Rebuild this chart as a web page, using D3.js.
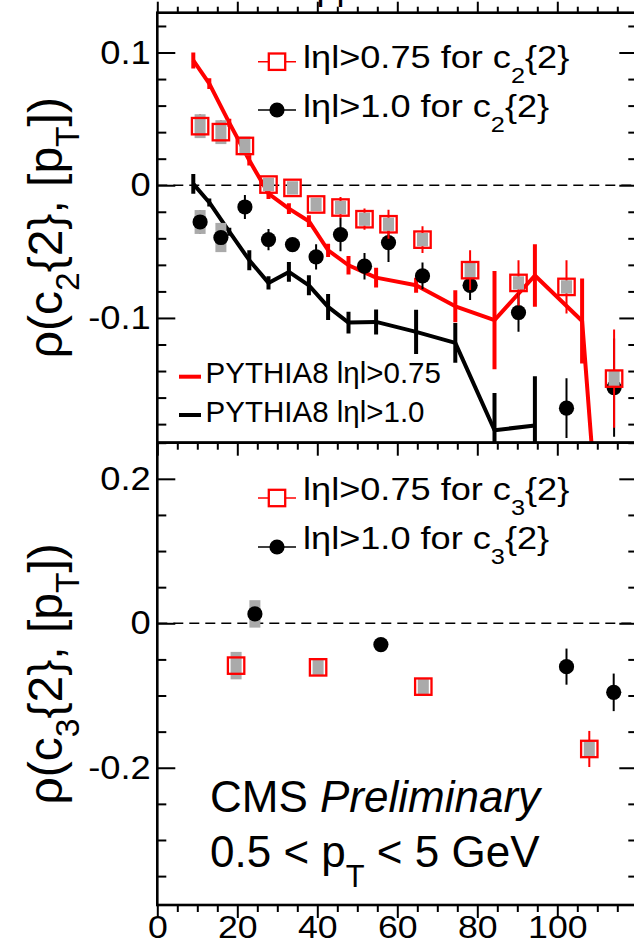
<!DOCTYPE html>
<html>
<head>
<meta charset="utf-8">
<script src="https://cdn.jsdelivr.net/npm/d3@7"></script>
<style>
  body { margin: 0; background: #fff; }
  svg { display: block; }
  text { font-family: "Liberation Sans", Arial, Helvetica, sans-serif; fill: #000; }
</style>
</head>
<body>
<div id="chart"></div>
<script>
// ---- data ----
// top panel: rho(c2{2},[pT]) vs multiplicity
const c2X = [10.7, 15.9, 21.9, 27.8, 33.8, 39.7, 45.8, 51.8, 57.8, 66.3, 78.2, 90.3, 102.3, 114.2];
const c2Red = [0.0445, 0.040, 0.0296, 0.0005, -0.002, -0.0145, -0.0168, -0.0256, -0.0294, -0.041, -0.064, -0.0736, -0.0766, -0.1457];
const c2RedStat = [0.009, 0.009, 0.004, 0.004, 0.004, 0.004, 0.008, 0.008, 0.011, 0.010, 0.015, 0.017, 0.020, 0.037];
const c2RedSys = [0.009, 0.009, 0.007, 0.005, 0.005, 0.005, 0.005, 0.005, 0.005, 0.005, 0.006, 0.005, 0.005, 0.006];
const c2Black = [-0.0277, -0.0394, -0.0164, -0.0409, -0.0447, -0.054, -0.0372, -0.061, -0.0432, -0.0683, -0.0754, -0.0959, -0.168, -0.1525];
const c2BlackStat = [0.009, 0.009, 0.009, 0.008, 0.005, 0.0095, 0.0125, 0.010, 0.0147, 0.010, 0.011, 0.0145, 0.0225, 0.037];
const c2BlackSys = [0.009, 0.011, 0.004, 0.004, 0.004, 0.004, 0.004, 0.004, 0.004, 0.004, 0.004, 0.004, 0.004, 0.004];

// PYTHIA8 curves
const pyX = [9, 13, 18, 23, 27.8, 32.9, 37.9, 42.7, 47.8, 54.7, 64.7, 74.5, 84.3, 94.4, 106.2, 114.3];
const pyRed = [0.094, 0.0766, 0.047, 0.0188, -0.0063, -0.0176, -0.0271, -0.049, -0.0603, -0.0696, -0.0754, -0.0912, -0.1017, -0.068, -0.1023, -0.42];
const pyRedErr = [0.006, 0.004, 0.003, 0.004, 0.004, 0.004, 0.0044, 0.005, 0.007, 0.0075, 0.0057, 0.012, 0.037, 0.0236, 0.032, 0.03];
const pyBlack = [0.001, -0.013, -0.035, -0.0565, -0.0736, -0.0653, -0.0754, -0.0917, -0.1035, -0.103, -0.1105, -0.1188, -0.1846, -0.181];
const pyBlackErr = [0.0075, 0.003, 0.003, 0.0075, 0.005, 0.0075, 0.0075, 0.0098, 0.0082, 0.0094, 0.0166, 0.015, 0.028, 0.037];

// bottom panel: rho(c3{2},[pT])
const c3RedX = [19.7, 40.2, 66.5, 108];
const c3Red = [-0.0586, -0.061, -0.0877, -0.174];
const c3RedStat = [0.006, 0.005, 0.005, 0.025];
const c3RedSys = [0.019, 0.012, 0.012, 0.012];
const c3BlackX = [24.4, 55.9, 102.3, 114.1];
const c3Black = [0.013, -0.0295, -0.06, -0.0956];
const c3BlackStat = [0.006, 0.005, 0.025, 0.026];
const c3BlackSys = [0.019, 0.005, 0.005, 0.005];

// axis ticks
const xTicks = [0, 20, 40, 60, 80, 100];
const yTopTicks = [-0.1, 0, 0.1];
const yBotTicks = [-0.2, 0, 0.2];

// ---- layout ----
const width = 634, height = 944;
const RED = '#ff0000', GRAY = '#aaaaaa';

const svg = d3.select('#chart').append('svg')
    .attr('width', width)
    .attr('height', height);

const x = d3.scaleLinear().domain([0, 120]).range([157.3, 637.3]);
const yTop = d3.scaleLinear().domain([-0.194, 0.13]).range([442.7, 12.7]);
const yBot = d3.scaleLinear().domain([-0.39, 0.25]).range([905, 442.7]);

const defs = svg.append('defs');
defs.append('clipPath').attr('id', 'clip-top').append('rect')
    .attr('x', x(0)).attr('y', yTop(0.13))
    .attr('width', x(120) - x(0)).attr('height', yTop(-0.194) - yTop(0.13));
defs.append('clipPath').attr('id', 'clip-bot').append('rect')
    .attr('x', x(0)).attr('y', yBot(0.25))
    .attr('width', x(120) - x(0)).attr('height', yBot(-0.39) - yBot(0.25));

// text with sub-scripts: parts = [[text, 'sub'|'it'|undefined], ...]
function richText(g, parts, size, subShift) {
    const t = g.append('text').style('font-size', size + 'px');
    let shift = 0;
    parts.forEach(([s, kind]) => {
        const target = kind === 'sub' ? subShift : 0;
        const ts = t.append('tspan').text(s).attr('dy', target - shift);
        shift = target;
        if (kind === 'sub') ts.style('font-size', (size * 0.7) + 'px');
        if (kind === 'it') ts.style('font-style', 'italic');
    });
    return t;
}

// PYTHIA curve with vertical error bars
function drawCurve(g, y, xs, vals, errs, color) {
    const pts = xs.slice(0, vals.length).map((d, i) => [d, vals[i], errs[i]]);
    g.append('path')
        .datum(pts)
        .attr('fill', 'none')
        .attr('stroke', color)
        .attr('stroke-width', 4)
        .attr('stroke-linejoin', 'round')
        .attr('d', d3.line().x(d => x(d[0])).y(d => y(d[1])));
    g.selectAll(null).data(pts).enter().append('line')
        .attr('x1', d => x(d[0])).attr('x2', d => x(d[0]))
        .attr('y1', d => y(d[1] - d[2])).attr('y2', d => y(d[1] + d[2]))
        .attr('stroke', color)
        .attr('stroke-width', 4);
}

// data points: stat bar, systematic box, marker
function drawPoints(g, y, xs, vals, stat, sys, color, shape) {
    const pts = xs.map((d, i) => ({ x: d, v: vals[i], s: stat[i], b: sys[i] }));
    g.selectAll(null).data(pts).enter().append('line')
        .attr('x1', d => x(d.x)).attr('x2', d => x(d.x))
        .attr('y1', d => y(d.v - d.s)).attr('y2', d => y(d.v + d.s))
        .attr('stroke', color)
        .attr('stroke-width', 2);
    g.selectAll(null).data(pts).enter().append('rect')
        .attr('x', d => x(d.x) - 5.5)
        .attr('width', 11)
        .attr('y', d => y(d.v + d.b))
        .attr('height', d => y(d.v - d.b) - y(d.v + d.b))
        .attr('fill', GRAY);
    if (shape === 'square') {
        g.selectAll(null).data(pts).enter().append('rect')
            .attr('x', d => x(d.x) - 8.2).attr('y', d => y(d.v) - 8.2)
            .attr('width', 16.4).attr('height', 16.4)
            .attr('fill', 'none')
            .attr('stroke', color)
            .attr('stroke-width', 2.3);
    } else {
        g.selectAll(null).data(pts).enter().append('circle')
            .attr('cx', d => x(d.x)).attr('cy', d => y(d.v))
            .attr('r', 7.6)
            .attr('fill', color);
    }
}

function zeroLine(y) {
    svg.append('line')
        .attr('x1', x(0)).attr('x2', x(120))
        .attr('y1', y(0)).attr('y2', y(0))
        .attr('stroke', '#000')
        .attr('stroke-width', 1.5)
        .attr('stroke-dasharray', '10,6');
}

// ---- top panel ----
zeroLine(yTop);
const gTop = svg.append('g').attr('clip-path', 'url(#clip-top)');
drawCurve(gTop, yTop, pyX, pyBlack, pyBlackErr, '#000');
drawCurve(gTop, yTop, pyX, pyRed, pyRedErr, RED);
drawPoints(gTop, yTop, c2X, c2Black, c2BlackStat, c2BlackSys, '#000', 'circle');
drawPoints(gTop, yTop, c2X, c2Red, c2RedStat, c2RedSys, RED, 'square');

// ---- bottom panel ----
zeroLine(yBot);
const gBot = svg.append('g').attr('clip-path', 'url(#clip-bot)');
drawPoints(gBot, yBot, c3RedX, c3Red, c3RedStat, c3RedSys, RED, 'square');
drawPoints(gBot, yBot, c3BlackX, c3Black, c3BlackStat, c3BlackSys, '#000', 'circle');

// ---- axes ----
const fmt = d => (d === 0 ? '0' : String(d));
const minorX = d3.range(0, 121, 5).filter(d => d % 20 !== 0);
const majorX = d3.range(0, 121, 20);

function styleAxis(sel) {
    sel.select('.domain').remove();
    sel.selectAll('line').attr('stroke', '#000').attr('stroke-width', 2);
}

function xAxes(yPos, dir, major, minor) {
    const make = dir === 'top' ? d3.axisTop : d3.axisBottom;
    svg.append('g').attr('transform', `translate(0,${yPos})`)
        .call(make(x).tickValues(majorX).tickSizeInner(-major).tickSizeOuter(0).tickFormat(''))
        .call(styleAxis);
    svg.append('g').attr('transform', `translate(0,${yPos})`)
        .call(make(x).tickValues(minorX).tickSizeInner(-minor).tickSizeOuter(0).tickFormat(''))
        .call(styleAxis);
}

function yAxes(y, majorTicks, minorTicks) {
    const gl = svg.append('g').attr('transform', `translate(${x(0)},0)`)
        .call(d3.axisLeft(y).tickValues(majorTicks).tickSizeInner(-18).tickSizeOuter(0)
            .tickPadding(6).tickFormat(fmt))
        .call(styleAxis);
    gl.selectAll('text')
        .style('font-size', '33px')
        .style('font-family', '"Liberation Sans", Arial, sans-serif')
        .attr('transform', 'scale(1.1,1)');
    svg.append('g').attr('transform', `translate(${x(0)},0)`)
        .call(d3.axisLeft(y).tickValues(minorTicks).tickSizeInner(-9).tickSizeOuter(0).tickFormat(''))
        .call(styleAxis);
    svg.append('g').attr('transform', `translate(${x(120)},0)`)
        .call(d3.axisRight(y).tickValues(majorTicks).tickSizeInner(-18).tickSizeOuter(0).tickFormat(''))
        .call(styleAxis);
    svg.append('g').attr('transform', `translate(${x(120)},0)`)
        .call(d3.axisRight(y).tickValues(minorTicks).tickSizeInner(-9).tickSizeOuter(0).tickFormat(''))
        .call(styleAxis);
}

const minorTop = d3.range(-18, 13, 2).map(d => d / 100).filter(d => Math.abs(d * 10 - Math.round(d * 10)) > 1e-6);
const minorBot = d3.range(-35, 26, 5).map(d => d / 100).filter(d => Math.abs(d * 5 - Math.round(d * 5)) > 1e-6);

xAxes(yTop(0.13), 'bottom', 11, 6);
xAxes(yTop(-0.194), 'top', 13, 7);
xAxes(yBot(-0.39), 'top', 13, 7);
// bottom labels
svg.append('g').attr('transform', `translate(0,${yBot(-0.39)})`)
    .call(d3.axisBottom(x).tickValues(xTicks).tickSize(0).tickPadding(11).tickFormat(fmt))
    .call(g => g.select('.domain').remove())
    .selectAll('text')
    .style('font-size', '31px')
    .style('font-family', '"Liberation Sans", Arial, sans-serif')
    .attr('transform', 'scale(1.15,1)');

yAxes(yTop, yTopTicks, minorTop);
yAxes(yBot, yBotTicks, minorBot);

// frames
[[yTop(0.13), yTop(-0.194)], [yBot(0.25), yBot(-0.39)]].forEach(([t, b]) => {
    svg.append('rect')
        .attr('x', x(0)).attr('y', t)
        .attr('width', x(120) - x(0)).attr('height', b - t)
        .attr('fill', 'none')
        .attr('stroke', '#000')
        .attr('stroke-width', 2.6);
});

// title above the frame, cut off by the page edge as in the original
svg.append('text').attr('x', 316.5).attr('y', -1.5).style('font-size', '36px').text('pp');

// ---- y titles ----
const yTitle = (cy, n) => {
    const g = svg.append('g').attr('transform', `translate(62,${cy}) rotate(-90)`);
    richText(g, [['ρ(c'], [n, 'sub'], ['{2}, [p'], ['T', 'sub'], ['])']], 48, 17)
        .attr('text-anchor', 'middle');
};
yTitle((yTop(0.13) + yTop(-0.194)) / 2, '2');
yTitle((yBot(0.25) + yBot(-0.39)) / 2, '3');

// ---- legends ----
function legendEntry(lx, ly, ty, shape, parts) {
    const color = shape === 'square' ? RED : '#000';
    svg.append('line')
        .attr('x1', lx - 19).attr('x2', lx + 19)
        .attr('y1', ly).attr('y2', ly)
        .attr('stroke', color).attr('stroke-width', 1.5);
    if (shape === 'square') {
        svg.append('rect')
            .attr('x', lx - 8.2).attr('y', ly - 8.2)
            .attr('width', 16.4).attr('height', 16.4)
            .attr('fill', '#fff').attr('stroke', RED).attr('stroke-width', 2.3);
    } else {
        svg.append('circle').attr('cx', lx).attr('cy', ly).attr('r', 7.6).attr('fill', '#000');
    }
    const g = svg.append('g').attr('transform', `translate(${lx + 26},${ty}) scale(1.13,1)`);
    richText(g, parts, 32, 15);
}

legendEntry(277, 61.7, 68.3, 'square', [['lηl>0.75 for c'], ['2', 'sub'], ['{2}']]);
legendEntry(277, 110, 116.7, 'circle', [['lηl>1.0 for c'], ['2', 'sub'], ['{2}']]);
legendEntry(277, 498, 500, 'square', [['lηl>0.75 for c'], ['3', 'sub'], ['{2}']]);
legendEntry(277, 547, 548.5, 'circle', [['lηl>1.0 for c'], ['3', 'sub'], ['{2}']]);

function pyLegend(ly, ty, color, label) {
    svg.append('line')
        .attr('x1', 179).attr('x2', 201)
        .attr('y1', ly).attr('y2', ly)
        .attr('stroke', color).attr('stroke-width', 4);
    svg.append('text').attr('x', 205.6).attr('y', ty).style('font-size', '29.5px').text(label);
}
pyLegend(376.7, 383.3, RED, 'PYTHIA8 lηl>0.75');
pyLegend(415, 421.7, '#000', 'PYTHIA8 lηl>1.0');

// ---- CMS label ----
const gc1 = svg.append('g').attr('transform', 'translate(210,811.7)');
richText(gc1, [['CMS '], ['Preliminary', 'it']], 44, 0);
const gc2 = svg.append('g').attr('transform', 'translate(210,866.7)');
richText(gc2, [['0.5 < p'], ['T', 'sub'], [' < 5 GeV']], 44, 20);
</script>
</body>
</html>
